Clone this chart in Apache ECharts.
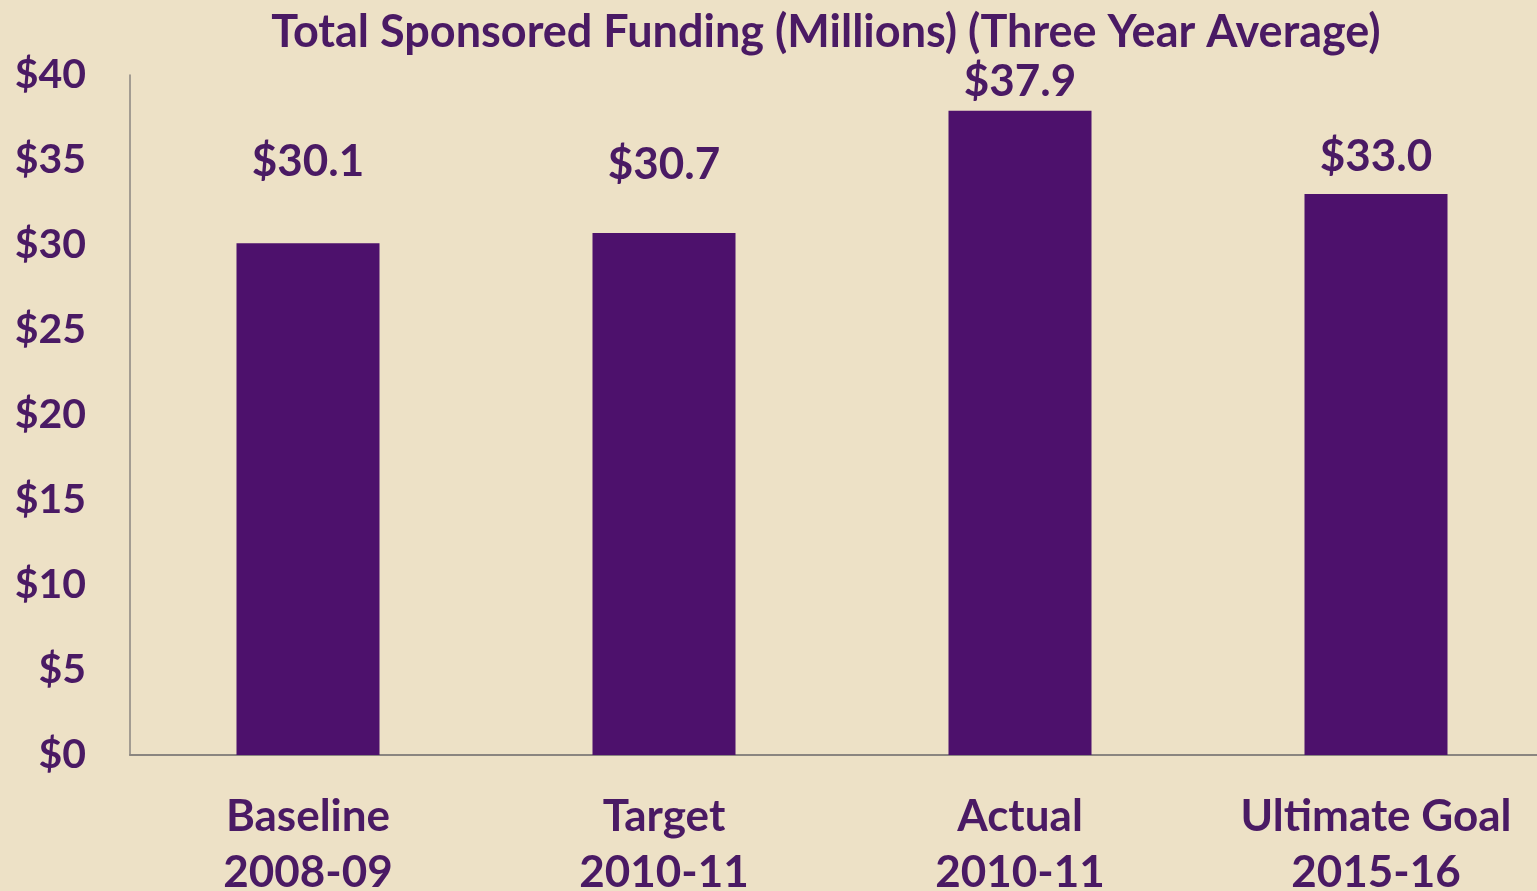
<!DOCTYPE html>
<html>
<head>
<meta charset="utf-8">
<script src="https://cdn.jsdelivr.net/npm/echarts@6/dist/echarts.min.js"></script>
<style>
  html, body { margin: 0; padding: 0; background: #ede1c6; }
  #chart_funding { width: 1537px; height: 891px; }
</style>
</head>
<body>
<div id="chart_funding"></div>
<script>
// data
const categories = ['Baseline\n2008-09', 'Target\n2010-11', 'Actual\n2010-11', 'Ultimate Goal\n2015-16']
const fundingValues = [30.1, 30.7, 37.9, 33.0]
const yTicks = [0, 5, 10, 15, 20, 25, 30, 35, 40]

// label gap above each bar (as in the original slide)
const labelGaps = [59, 46, 7, 15]

const purple = '#4a1a64'
const font = 'Lato'

let chart_funding = echarts.init(document.getElementById('chart_funding'))

let fundingOption = {
  backgroundColor: '#ede1c6',
  title: {
    text: 'Total Sponsored Funding (Millions) (Three Year Average)',
    left: 821,
    textAlign: 'center',
    top: 5,
    textStyle: {
      color: purple,
      fontFamily: font,
      fontWeight: 'bold',
      fontSize: 45
    }
  },
  grid: {
    left: 130,
    right: -17,
    top: 75,
    bottom: 136,
    outerBoundsMode: 'none',
    containLabel: false
  },
  xAxis: {
    type: 'category',
    data: categories,
    axisLine: { show: true, lineStyle: { color: '#8a8580', width: 2 } },
    axisTick: { show: false },
    axisLabel: {
      color: purple,
      fontFamily: font,
      fontWeight: 'bold',
      fontSize: 44,
      lineHeight: 56,
      margin: 34
    }
  },
  yAxis: {
    type: 'value',
    min: yTicks[0],
    max: yTicks[yTicks.length - 1],
    interval: 5,
    axisLine: { show: true, lineStyle: { color: '#8a8580', width: 1.5 } },
    axisTick: { show: false },
    splitLine: { show: false },
    axisLabel: {
      color: purple,
      fontFamily: font,
      fontWeight: 'bold',
      fontSize: 41,
      margin: 44,
      formatter: v => '$' + v
    }
  },
  series: [
    {
      type: 'bar',
      barWidth: 143,
      data: fundingValues.map((v, i) => ({
        value: v,
        label: { distance: labelGaps[i] }
      })),
      itemStyle: { color: '#4d116c' },
      label: {
        show: true,
        position: 'top',
        color: purple,
        fontFamily: font,
        fontWeight: 'bold',
        fontSize: 44,
        formatter: p => '$' + p.value.toFixed(1)
      }
    }
  ]
}

chart_funding.setOption(fundingOption)
</script>
</body>
</html>
